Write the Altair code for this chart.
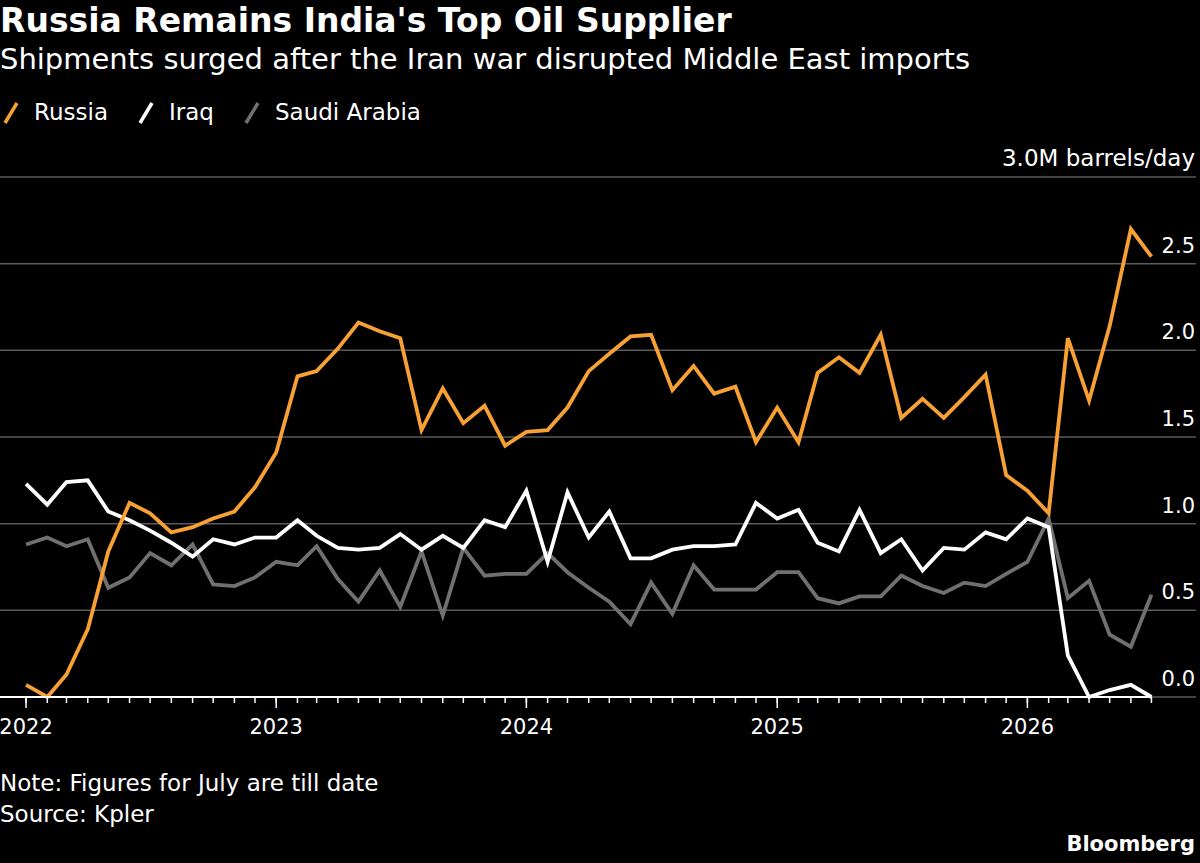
import altair as alt
import pandas as pd

# Monthly crude imports into India by supplier, million barrels per day
months = pd.date_range("2022-01-01", "2026-07-01", freq="MS").strftime("%Y-%m-%d").tolist()

suppliers = ["Russia", "Iraq", "Saudi Arabia"]
colors = ["#f7a033", "#ffffff", "#707070"]

russia = [0.07, 0.00, 0.13, 0.39, 0.84, 1.12, 1.06, 0.95, 0.98, 1.03, 1.07, 1.21,
          1.41, 1.85, 1.88, 2.01, 2.16, 2.11, 2.07, 1.54, 1.78, 1.58, 1.68, 1.45,
          1.53, 1.54, 1.67, 1.88, 1.98, 2.08, 2.09, 1.77, 1.91, 1.75, 1.79, 1.47,
          1.67, 1.47, 1.87, 1.96, 1.87, 2.09, 1.61, 1.72, 1.61, 1.73, 1.86, 1.28,
          1.19, 1.06, 2.07, 1.71, 2.14, 2.70, 2.54]
iraq = [1.23, 1.11, 1.24, 1.25, 1.07, 1.02, 0.96, 0.89, 0.81, 0.91, 0.88, 0.92,
        0.92, 1.02, 0.93, 0.86, 0.85, 0.86, 0.94, 0.85, 0.93, 0.86, 1.02, 0.98,
        1.19, 0.78, 1.18, 0.92, 1.07, 0.80, 0.80, 0.85, 0.87, 0.87, 0.88, 1.12,
        1.03, 1.08, 0.89, 0.84, 1.08, 0.83, 0.91, 0.73, 0.86, 0.85, 0.95, 0.91,
        1.03, 0.98, 0.24, 0.00, 0.04, 0.07, 0.00]
saudi = [0.88, 0.92, 0.87, 0.91, 0.63, 0.69, 0.83, 0.76, 0.88, 0.65, 0.64, 0.69,
         0.78, 0.76, 0.87, 0.68, 0.55, 0.73, 0.52, 0.84, 0.47, 0.86, 0.70, 0.71,
         0.71, 0.83, 0.72, 0.63, 0.55, 0.42, 0.66, 0.48, 0.76, 0.62, 0.62, 0.62,
         0.72, 0.72, 0.57, 0.54, 0.58, 0.58, 0.70, 0.64, 0.60, 0.66, 0.64, 0.71,
         0.78, 1.03, 0.57, 0.67, 0.36, 0.29, 0.59]

y_ticks = [0.0, 0.5, 1.0, 1.5, 2.0, 2.5]
y_top = 3.0
y_top_label = "3.0M barrels/day"

title_text = "Russia Remains India's Top Oil Supplier"
subtitle_text = "Shipments surged after the Iran war disrupted Middle East imports"
note_text = "Note: Figures for July are till date"
source_text = "Source: Kpler"
brand_text = "Bloomberg"

FONT = "DejaVu Sans"
W, H = 1196, 520
TOP = 177
X_START, X_END = "2021-11-24", "2026-09-04"

df = pd.DataFrame({
    "month": months * 3,
    "supplier": ["Russia"] * len(months) + ["Iraq"] * len(months) + ["Saudi Arabia"] * len(months),
    "mbd": russia + iraq + saudi,
})


def utc_date(s):
    return alt.DateTime(year=int(s[:4]), month=int(s[5:7]), date=int(s[8:10]), utc=True)


x_scale = alt.Scale(type="utc", domain=[utc_date(X_START), utc_date(X_END)])
y_scale = alt.Scale(domain=[0, 3], nice=False, zero=True)

color = alt.Color(
    "supplier:N",
    scale=alt.Scale(domain=suppliers, range=colors),
    legend=alt.Legend(
        orient="none", legendX=-1, legendY=-76, direction="horizontal", padding=0,
        title=None, symbolType="M-0.6,1L0.6,-1", symbolSize=400,
        symbolStrokeWidth=3.5, labelFontSize=23, labelFont=FONT,
        labelColor="white", labelOffset=11, columnPadding=25, labelLimit=300,
    ),
)

X = lambda field: alt.X(field, scale=x_scale, axis=None)
Y = lambda field: alt.Y(field, scale=y_scale, axis=None)

# horizontal gridlines with their value labels above, at the right edge
grid_df = pd.DataFrame({"v": y_ticks + [y_top]})
grid = alt.Chart(grid_df).mark_rule(color="#5a5a5a", strokeWidth=1.5).encode(
    y=Y("v:Q"), x=alt.value(0), x2=alt.value(W)
)
ylab_df = pd.DataFrame({"v": y_ticks, "label": [f"{v:.1f}" for v in y_ticks]})
y_labels = alt.Chart(ylab_df).mark_text(
    align="right", baseline="alphabetic", dy=-11, font=FONT, fontSize=21, color="white"
).encode(y=Y("v:Q"), x=alt.value(1195), text="label:N")
y_unit = alt.Chart(pd.DataFrame({"v": [y_top], "label": [y_top_label]})).mark_text(
    align="right", baseline="alphabetic", dy=-11, font=FONT, fontSize=23, color="white"
).encode(y=Y("v:Q"), x=alt.value(1195), text="label:N")

base = alt.Chart(df).encode(x=X("month:T"), y=Y("mbd:Q"), color=color)
lines = [
    base.transform_filter(alt.datum.supplier == name).mark_line(strokeWidth=3.8)
    for name in ["Saudi Arabia", "Iraq", "Russia"]
]

# white zero line running from the left edge to the latest month
baseline = alt.Chart(pd.DataFrame({"start": [X_START], "end": [months[-1]], "v": [0.0]})).mark_rule(
    color="white", strokeWidth=2
).encode(x=X("start:T"), x2="end:T", y=Y("v:Q"))

# monthly tick marks under the zero line, longer at each January, with year labels
month_df = pd.DataFrame({"month": months, "label": [m[:4] for m in months]})
month_ticks = alt.Chart(month_df).mark_rule(color="white", strokeWidth=1.5).encode(
    x=X("month:T"), y=alt.value(H), y2=alt.value(H + 6)
)
january = month_df[month_df["month"].str[5:7] == "01"]
year_ticks = alt.Chart(january).mark_rule(color="white", strokeWidth=1.5).encode(
    x=X("month:T"), y=alt.value(H), y2=alt.value(H + 11)
)
year_labels = alt.Chart(january).mark_text(
    align="center", baseline="alphabetic", font=FONT, fontSize=21, color="white"
).encode(x=X("month:T"), y=alt.value(H + 37), text="label:N")


def label(text, y, size, weight="normal", align="left", x=0):
    return alt.Chart(pd.DataFrame({"t": [text]})).mark_text(
        align=align, baseline="alphabetic", font=FONT, fontSize=size,
        fontWeight=weight, color="white",
    ).encode(x=alt.value(x), y=alt.value(y - TOP), text="t:N")


texts = [
    label(title_text, 32, 33, "bold"),
    label(subtitle_text, 69, 29),
    label(note_text, 791, 23),
    label(source_text, 822, 23),
    label(brand_text, 851, 21, "bold", "right", 1195),
]

chart = alt.layer(
    grid, *lines, baseline, month_ticks, year_ticks, year_labels, y_labels, y_unit, *texts
).properties(
    width=W, height=H,
    autosize=alt.AutoSizeParams(type="none"),
    padding={"left": 0, "top": TOP, "right": 1200 - W, "bottom": 863 - TOP - H},
    background="black",
).configure(font=FONT).configure_view(stroke=None)

chart.save("out.html", embed_options={"renderer": "svg", "actions": False})
